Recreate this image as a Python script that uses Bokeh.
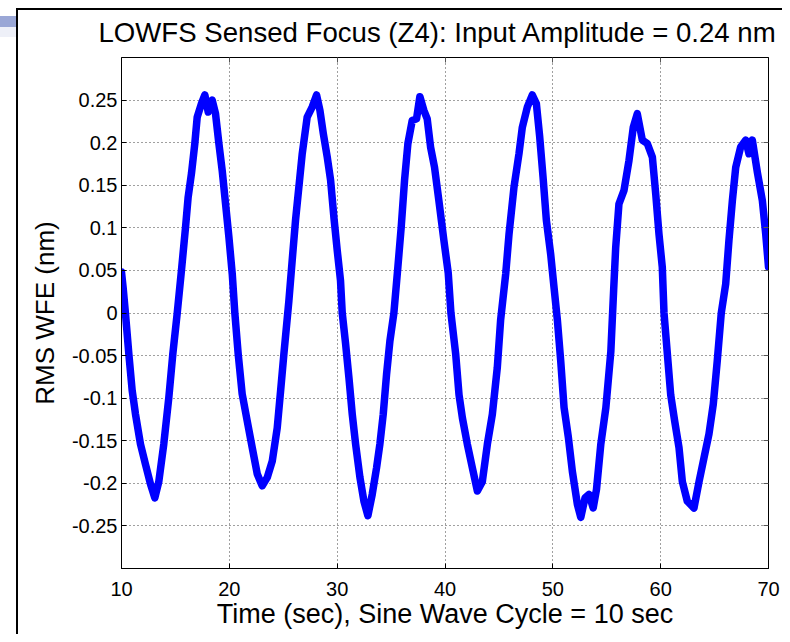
from bokeh.plotting import figure
from bokeh.models import Range1d, FixedTicker, LinearAxis
from bokeh.embed import file_html
from bokeh.resources import INLINE

# ---- data ----
time_s = [10.0, 10.15, 10.37, 10.68, 10.99, 11.30, 11.76, 12.23, 12.69, 13.09,
          13.46, 13.92, 14.39, 14.76, 15.16, 15.56, 15.94, 16.18, 16.49, 16.80,
          17.02, 17.42, 17.73, 18.04, 18.41, 18.72, 19.03, 19.34, 19.65, 19.96,
          20.27, 20.51, 20.82, 21.19, 21.66, 22.12, 22.59, 23.05, 23.52, 23.98,
          24.44, 24.75, 25.06, 25.52, 25.83, 26.14, 26.45, 26.76, 27.22, 27.69,
          28.09, 28.40, 28.71, 29.08, 29.39, 29.70, 30.01, 30.31, 30.47, 30.78,
          31.09, 31.40, 31.71, 32.11, 32.48, 32.85, 33.25, 33.65, 33.96, 34.27,
          34.58, 34.89, 35.26, 35.63, 35.94, 36.25, 36.56, 36.96, 37.36, 37.67,
          38.04, 38.35, 38.66, 39.03, 39.43, 39.90, 40.30, 40.55, 40.99, 41.30,
          41.61, 42.07, 42.54, 43.00, 43.46, 43.93, 44.39, 44.85, 45.16, 45.63,
          45.94, 46.40, 46.86, 47.17, 47.64, 48.10, 48.47, 48.78, 49.09, 49.40,
          49.80, 50.11, 50.42, 50.73, 51.04, 51.44, 51.81, 52.28, 52.59, 52.99,
          53.36, 53.74, 54.05, 54.45, 54.92, 55.38, 55.64, 55.83, 56.13, 56.60,
          57.06, 57.46, 57.83, 58.30, 58.76, 59.23, 59.54, 59.84, 60.15, 60.31,
          60.62, 60.93, 61.30, 61.70, 62.01, 62.47, 63.09, 63.56, 64.02, 64.48,
          64.88, 65.25, 65.62, 66.03, 66.33, 66.65, 66.96, 67.42, 67.88, 68.19,
          68.50, 68.97, 69.43, 69.74, 70.0]
rms_wfe = [0.048, 0.030, -0.001, -0.048, -0.091, -0.119, -0.154, -0.178, -0.201, -0.217,
           -0.198, -0.154, -0.099, -0.048, -0.001, 0.050, 0.101, 0.136, 0.164, 0.199,
           0.230, 0.246, 0.256, 0.236, 0.250, 0.234, 0.199, 0.167, 0.128, 0.089,
           0.046, 0.000, -0.048, -0.095, -0.127, -0.158, -0.189, -0.203, -0.193, -0.174,
           -0.135, -0.092, -0.048, 0.014, 0.062, 0.109, 0.148, 0.187, 0.230, 0.242,
           0.256, 0.238, 0.211, 0.183, 0.156, 0.112, 0.073, 0.038, 0.000, -0.036,
           -0.076, -0.119, -0.154, -0.193, -0.221, -0.238, -0.213, -0.182, -0.154, -0.119,
           -0.072, -0.033, 0.000, 0.054, 0.101, 0.156, 0.199, 0.226, 0.228, 0.254,
           0.238, 0.228, 0.195, 0.171, 0.132, 0.085, 0.047, 0.000, -0.048, -0.096,
           -0.123, -0.154, -0.182, -0.209, -0.198, -0.154, -0.119, -0.064, -0.008, 0.046,
           0.093, 0.148, 0.187, 0.218, 0.242, 0.256, 0.246, 0.207, 0.160, 0.109,
           0.069, 0.030, -0.008, -0.056, -0.111, -0.146, -0.186, -0.225, -0.240, -0.217,
           -0.213, -0.229, -0.207, -0.154, -0.111, -0.045, 0.027, 0.077, 0.128, 0.144,
           0.179, 0.218, 0.234, 0.203, 0.199, 0.183, 0.140, 0.093, 0.054, 0.000,
           -0.048, -0.096, -0.127, -0.158, -0.198, -0.221, -0.229, -0.198, -0.170, -0.142,
           -0.107, -0.056, 0.000, 0.034, 0.085, 0.132, 0.171, 0.195, 0.203, 0.187,
           0.203, 0.165, 0.132, 0.093, 0.054]

x_ticks = [10, 20, 30, 40, 50, 60, 70]
y_ticks = [-0.25, -0.2, -0.15, -0.1, -0.05, 0, 0.05, 0.1, 0.15, 0.2, 0.25]
y_tick_labels = ["-0.25", "-0.2", "-0.15", "-0.1", "-0.05", "0",
                 "0.05", "0.1", "0.15", "0.2", "0.25"]
title_text = "LOWFS Sensed Focus (Z4): Input Amplitude = 0.24 nm"
x_label = "Time (sec), Sine Wave Cycle = 10 sec"
y_label = "RMS WFE (nm)"

FONT = "Liberation Sans"
W, H = 782, 634

p = figure(width=W, height=H, output_backend="svg", toolbar_location=None,
           x_range=Range1d(10, 70), y_range=Range1d(-0.3, 0.3),
           min_border_left=121, min_border_right=14,
           min_border_top=57, min_border_bottom=66,
           title=title_text)

p.title.text_font = FONT
p.title.text_font_size = "27.6px"
p.title.text_font_style = "normal"
p.title.align = "left"
p.title.offset = -23
p.title.text_color = "black"
p.title.standoff = 20

p.background_fill_color = "white"
p.border_fill_color = None
p.outline_line_color = "black"
p.outline_line_width = 1

# slide-frame decoration (thick black frame lines and the blue bar at top-left)
p.styles = {
    "background": ("linear-gradient(#000,#000) 16px 8px / 2px 100% no-repeat, "
                   "linear-gradient(#000,#000) 16px 8px / 100% 2px no-repeat, "
                   "linear-gradient(#9aa7d6,#9aa7d6) 0px 16px / 16px 11px no-repeat, "
                   "linear-gradient(#eef0f8,#eef0f8) 0px 27px / 16px 10px no-repeat, "
                   "#ffffff"),
}

p.xaxis.ticker = FixedTicker(ticks=x_ticks)
p.yaxis.ticker = FixedTicker(ticks=y_ticks)
p.yaxis.major_label_overrides = dict(zip(y_ticks, y_tick_labels))
p.xaxis.axis_label = x_label
p.yaxis.axis_label = y_label

for ax in p.axis:
    ax.axis_label_text_font = FONT
    ax.axis_label_text_font_style = "normal"
    ax.axis_label_text_color = "black"
    ax.major_label_text_font = FONT
    ax.major_label_text_font_size = "20px"
    ax.major_label_text_color = "black"
    ax.major_tick_in = 5
    ax.major_tick_out = 0
    ax.minor_tick_line_color = None
    ax.axis_line_color = "black"
    ax.major_tick_line_color = "black"

p.xaxis.axis_label_text_font_size = "27px"
p.yaxis.axis_label_text_font_size = "26px"
p.xaxis.major_label_standoff = 13
p.xaxis.axis_label_standoff = 0
p.yaxis.major_label_standoff = 4
p.yaxis.axis_label_standoff = 9

# box-style ticks on top and right (tick marks only, no labels)
for loc, tick_list in (("above", x_ticks), ("right", y_ticks)):
    ax = LinearAxis(ticker=FixedTicker(ticks=[], minor_ticks=tick_list))
    ax.major_label_standoff = 0
    ax.major_tick_line_color = None
    ax.minor_tick_in = 5
    ax.minor_tick_out = 0
    ax.minor_tick_line_color = "#555555"
    ax.axis_line_color = "black"
    p.add_layout(ax, loc)

p.grid.grid_line_color = "black"
p.grid.grid_line_alpha = 0.75
p.grid.grid_line_dash = "1 3"
p.grid.grid_line_width = 1

p.line(time_s, rms_wfe, line_color="#0000ff", line_width=7.5, line_join="round", line_cap="round")

open("out.html", "w").write(file_html(p, INLINE))
